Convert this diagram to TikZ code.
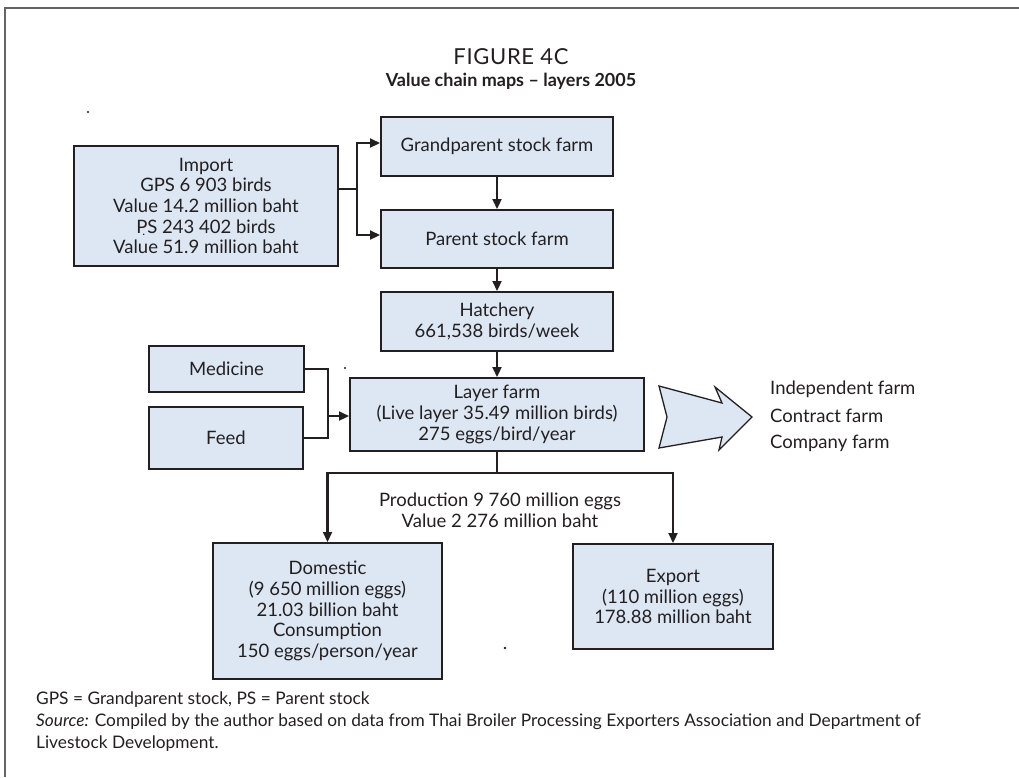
\documentclass[tikz,border=0pt]{standalone}
\usepackage{fontspec}
\setmainfont{Lato}
\usetikzlibrary{arrows.meta}
\definecolor{boxfill}{RGB}{221,231,243}
\definecolor{ink}{RGB}{35,31,32}
\definecolor{framegray}{RGB}{100,100,100}
\newcommand\vcbody{\fontsize{18.5}{20.7}\selectfont}
\newcommand\vcfig{\fontsize{22}{24}\selectfont\addfontfeatures{LetterSpace=3}}
\newcommand\vctitle{\fontsize{18}{21}\selectfont\bfseries}
\newcommand\vcnote{\fontsize{17.3}{22}\selectfont}
% P with a small dot set just below it
\newcommand\dotP{P\llap{\raisebox{-0.28ex}[0pt][0pt]{\fontsize{12}{12}\selectfont.}\kern2.2pt}}
\begin{document}
\begin{tikzpicture}[x=1pt,y=-1pt,
  box/.style={draw=ink, line width=2pt, fill=boxfill, align=center,
              inner sep=0pt, font=\vcbody, text=ink},
  link/.style={draw=ink, line width=2.2pt},
  arr/.style={link, -{Triangle[length=10pt,width=9pt]}},
  plain/.style={text=ink, inner sep=0pt},
  speck/.style={fill=ink, draw=none},
]
\useasboundingbox (0,0) rectangle (1019,777);
\fill[white] (0,0) rectangle (1019,777);
% frame
\draw[framegray, line width=2pt] (5,777) -- (5,8) -- (1019,8);

% titles
\node[plain, font=\vcfig] (fig) at (511,57) {FIGURE 4C};
\node[plain, font=\vctitle] (title) at (511,81) {Value chain maps – layers 2005};

% boxes
\node[box, minimum width=264pt, minimum height=120pt] (imp) at (206,206)
  {Import\\GPS 6 903 birds\\Value 14.2 million baht\\\dotP S 243 402 birds\\Value 51.9 million baht};
\node[box, minimum width=232pt, minimum height=59pt] (gps) at (497,146.5) {Grandparent stock farm};
\node[box, minimum width=232pt, minimum height=58pt] (ps) at (497,239) {Parent stock farm};
\node[box, minimum width=232pt, minimum height=59pt] (hatch) at (497,321.5) {Hatchery\\661,538 birds/week};
\node[box, minimum width=294pt, minimum height=73pt] (layer) at (497,414.5)
  {Layer farm\\(Live layer 35.49 million birds)\\275 eggs/bird/year};
\node[box, minimum width=155pt, minimum height=46pt] (med) at (226.5,369) {Medicine};
\node[box, minimum width=154pt, minimum height=62pt] (feed) at (226,438) {Feed};
\node[box, minimum width=229pt, minimum height=136pt] (dom) at (327.5,611)
  {Domestic\\(9 650 million eggs)\\21.03 billion baht\\Consumption\\150 eggs/person/year};
\node[box, minimum width=200pt, minimum height=105pt] (exp) at (673,596.5)
  {Export\\(110 million eggs)\\178.88 million baht};

% import feeds both breeding farms
\coordinate (j1) at (357,189);
\coordinate (jt) at (357,143);
\coordinate (jb) at (357,235);
\draw[link] (imp.east |- j1) -- (j1);
\draw[arr] (j1) -- (jt) -- (gps.west |- jt);
\draw[arr] (j1) -- (jb) -- (ps.west |- jb);

% main chain
\draw[arr] (gps.south) -- (ps.north);
\draw[arr] (ps.south) -- (hatch.north);
\draw[arr] (hatch.south) -- (layer.north);

% inputs to the layer farm
\coordinate (mf) at (328,416);
\draw[link] (med.east) -| (mf);
\draw[link] (feed.east) -| (mf);
\draw[arr] (mf) -- (layer.west |- mf);

% production split
\coordinate (split) at (497,473);
\draw[link] (layer.south) -- (split);
\draw[arr] (split) -| (dom.north);
\draw[arr] (split) -| (exp.north);
\node[plain, font=\vcbody, align=center] (prod) at (500,510)
  {Production 9 760 million eggs\\Value 2 276 million baht};

% farm types
\filldraw[fill=boxfill, draw=ink, line width=1.3pt, line join=miter]
  (659,386) -- (722,403) -- (715,387) -- (752,417) -- (719,450)
  -- (722,437) -- (659,448) -- (667,417) -- cycle;
\node[plain, font=\vcbody, anchor=west] (ind) at (770,389) {Independent farm};
\node[plain, font=\vcbody, anchor=west] (con) at (770,416) {Contract farm};
\node[plain, font=\vcbody, anchor=west] (com) at (770,443) {Company farm};

% stray specks
\fill[speck] (88,112) circle (1.1);
\fill[speck] (345,368) circle (1.1);
\fill[speck] (505,648) circle (1.3);

% notes
\node[plain, font=\vcnote, anchor=west] (n1) at (36,700) {GPS = Grandparent stock, PS = Parent stock};
\node[plain, font=\vcnote, anchor=west] (n2) at (36,722)
  {\textit{Source:} Compiled by the author based on data from Thai Broiler Processing Exporters Association and Department of};
\node[plain, font=\vcnote, anchor=west] (n3) at (36,744) {Livestock Development.};
\end{tikzpicture}
\end{document}
